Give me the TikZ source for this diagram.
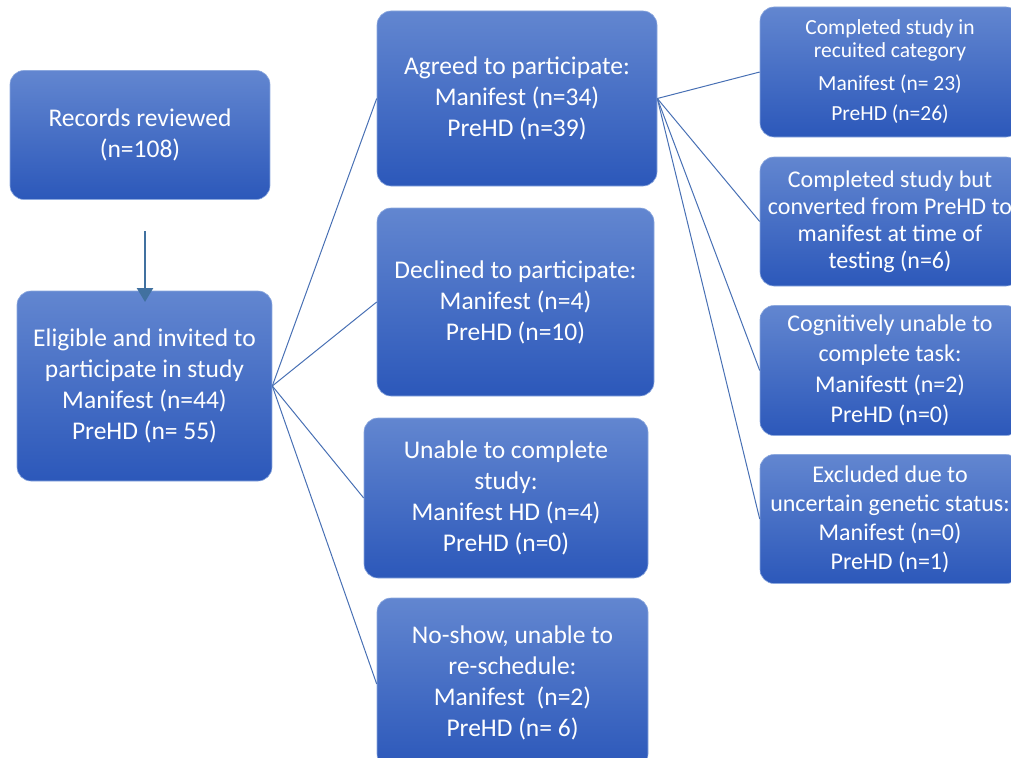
\documentclass[tikz,border=0pt]{standalone}
\usepackage{fontspec}
\setmainfont{Carlito}
\usetikzlibrary{arrows.meta}
\definecolor{boxtop}{RGB}{98,134,208}
\definecolor{boxbot}{RGB}{44,88,186}
\definecolor{boxedge}{RGB}{140,168,222}
\definecolor{linecol}{RGB}{72,112,180}
\definecolor{arrowcol}{RGB}{65,113,160}
\begin{document}
\begin{tikzpicture}[x=1pt,y=-1pt,
  flowbox/.style={rounded corners=14pt, top color=boxtop, bottom color=boxbot,
    middle color=boxtop!50!boxbot,
    draw=boxedge, line width=0.6pt, text=white, align=center, inner sep=0pt},
  mainfont/.style={font=\fontsize{25.5}{31}\selectfont},
  sidefont/.style={font=\fontsize{24}{29}\selectfont},
  link/.style={draw=linecol, line width=1pt},
  downarrow/.style={draw=arrowcol, line width=2.5pt, -{Triangle[width=16pt,length=14pt]}}
]
\useasboundingbox (0,0) rectangle (1011,757);

\node[flowbox, mainfont, minimum width=260pt, minimum height=129pt] (records) at (140,135)
  {Records reviewed\\(n=108)};
\node[flowbox, mainfont, minimum width=255pt, minimum height=190pt] (eligible) at (144.5,386)
  {Eligible and invited to\\participate in study\\Manifest (n=44)\\PreHD (n= 55)};

\node[flowbox, mainfont, minimum width=280pt, minimum height=175pt] (agreed) at (517,98.5)
  {Agreed to participate:\\Manifest (n=34)\\PreHD (n=39)};
\node[flowbox, mainfont, minimum width=277pt, minimum height=188pt] (declined) at (515.5,302)
  {Declined to participate:\\Manifest (n=4)\\PreHD (n=10)};
\node[flowbox, mainfont, minimum width=284pt, minimum height=160pt] (unable) at (506,498)
  {Unable to complete\\study:\\Manifest HD (n=4)\\PreHD (n=0)};
\node[flowbox, mainfont, minimum width=271pt, minimum height=170pt] (noshow) at (512.5,683)
  {No-show, unable to\\re-schedule:\\Manifest~ (n=2)\\PreHD (n= 6)};

\node[flowbox, font=\fontsize{21.5}{23}\selectfont, minimum width=260pt, minimum height=130pt] (comp1) at (890,72)
  {Completed study in\\recuited category\\[10pt]Manifest (n= 23)\\[7pt]PreHD (n=26)};
\node[flowbox, font=\fontsize{24}{27}\selectfont, minimum width=260pt, minimum height=129pt] (comp2) at (890,221.5)
  {Completed study but\\converted from PreHD to\\manifest at time of\\testing (n=6)};
\node[flowbox, font=\fontsize{24}{30.5}\selectfont, minimum width=260pt, minimum height=130pt] (cog) at (890,370.5)
  {Cognitively unable to\\complete task:\\Manifestt (n=2)\\PreHD (n=0)};
\node[flowbox, sidefont, minimum width=260pt, minimum height=129pt] (excl) at (890,519)
  {Excluded due to\\uncertain genetic status:\\Manifest (n=0)\\PreHD (n=1)};

\coordinate (arrstart) at (145,231);
\coordinate (arrend) at (145,302);
\draw[downarrow] (arrstart) -- (arrend);

\draw[link] (eligible.east) -- (agreed.west);
\draw[link] (eligible.east) -- (declined.west);
\draw[link] (eligible.east) -- (unable.west);
\draw[link] (eligible.east) -- ([yshift=-1pt]noshow.west);

\draw[link] (agreed.east) -- (comp1.west);
\draw[link] (agreed.east) -- (comp2.west);
\draw[link] (agreed.east) -- (cog.west);
\draw[link] (agreed.east) -- (excl.west);
\end{tikzpicture}
\end{document}
